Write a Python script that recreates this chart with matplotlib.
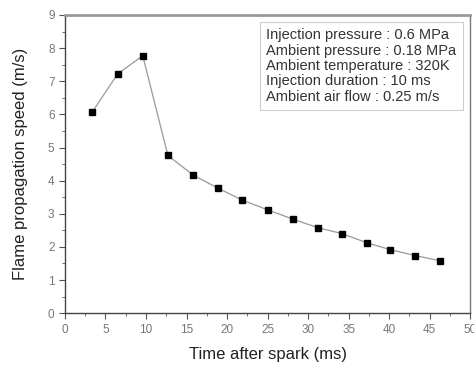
import matplotlib.pyplot as plt
from matplotlib.ticker import MultipleLocator

# data
time_ms = [3.4, 6.5, 9.6, 12.7, 15.8, 18.9, 21.9, 25.0, 28.1, 31.2, 34.2, 37.3, 40.1, 43.2, 46.3]
speed = [6.08, 7.22, 7.77, 4.76, 4.17, 3.77, 3.41, 3.12, 2.84, 2.58, 2.40, 2.12, 1.92, 1.74, 1.58]
info_lines = ["Injection pressure : 0.6 MPa",
              "Ambient pressure : 0.18 MPa",
              "Ambient temperature : 320K",
              "Injection duration : 10 ms",
              "Ambient air flow : 0.25 m/s"]

plt.rcParams['font.family'] = ['Liberation Sans', 'DejaVu Sans']

fig = plt.figure(figsize=(4.74, 3.65), dpi=100)
ax = fig.add_axes([0.137, 0.142, 0.855, 0.817])

ax.plot(time_ms, speed, '-', color='#999999', linewidth=0.9)
ax.plot(time_ms, speed, 's', color='black', markersize=4.5, linestyle='none')

ax.set_xlim(0, 50)
ax.set_ylim(0, 9)
ax.xaxis.set_major_locator(MultipleLocator(5))
ax.xaxis.set_minor_locator(MultipleLocator(2.5))
ax.yaxis.set_major_locator(MultipleLocator(1))
ax.yaxis.set_minor_locator(MultipleLocator(0.5))
ax.tick_params(which='both', direction='out', colors='#555555', labelcolor='#777777', labelsize=8.5)
ax.tick_params(which='major', length=4)
ax.tick_params(which='minor', length=2)

for s in ['left', 'bottom']:
    ax.spines[s].set_color('#444444')
    ax.spines[s].set_linewidth(1.0)
ax.spines['top'].set_color('#999999')
ax.spines['top'].set_linewidth(2.0)
ax.spines['right'].set_color('#777777')
ax.spines['right'].set_linewidth(1.0)

ax.set_xlabel("Time after spark (ms)", fontsize=12, color='#222222', labelpad=8)
ax.set_ylabel("Flame propagation speed (m/s)", fontsize=12, color='#222222', labelpad=14)

ax.text(0.497, 0.955, "\n".join(info_lines), transform=ax.transAxes,
        ha='left', va='top', fontsize=10.5, color='#333333', linespacing=1.12,
        bbox=dict(boxstyle='square,pad=0.45', facecolor='white', edgecolor='#cccccc', linewidth=0.8))

plt.savefig("out.png", dpi=100)
